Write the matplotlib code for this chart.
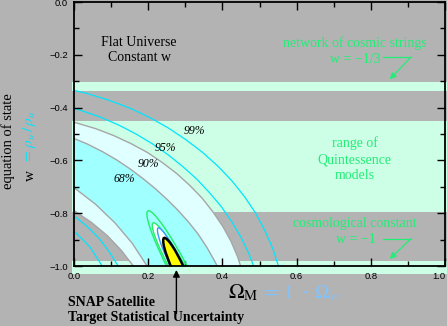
import matplotlib
matplotlib.use("Agg")
import matplotlib.pyplot as plt
from matplotlib.patches import Ellipse

plt.rcParams['mathtext.fontset'] = 'stix'

# horizontal bands of theoretical models (w ranges)
band_names = ["cosmic strings", "quintessence", "cosmological constant"]
band_low = [-0.338, -0.795, -1.029]
band_high = [-0.304, -0.449, -0.981]

# current supernova confidence contours, (Omega_M, w)
c68_out_om = [0.0, 0.036, 0.077, 0.116, 0.153, 0.187, 0.220, 0.251, 0.281, 0.309, 0.335, 0.358, 0.379, 0.386]
c68_out_w = [-0.517, -0.538, -0.567, -0.599, -0.634, -0.670, -0.708, -0.748, -0.790, -0.834, -0.880, -0.929, -0.981, -1.0]
c68_in_om = [0.0, 0.058, 0.110, 0.157, 0.197]
c68_in_w = [-0.703, -0.766, -0.836, -0.914, -1.0]

c90_out_om = [0.0, 0.009, 0.059, 0.107, 0.153, 0.198, 0.239, 0.278, 0.313, 0.346, 0.375, 0.401, 0.423, 0.441, 0.449]
c90_out_w = [-0.456, -0.459, -0.480, -0.506, -0.536, -0.570, -0.609, -0.651, -0.696, -0.744, -0.796, -0.850, -0.906, -0.965, -1.0]
c90_in_om = [0.0, 0.047, 0.089, 0.127, 0.16]
c90_in_w = [-0.79, -0.835, -0.884, -0.940, -1.0]

c95_out_om = [0.0, 0.017, 0.069, 0.119, 0.166, 0.211, 0.254, 0.293, 0.331, 0.365, 0.397, 0.425, 0.450, 0.471, 0.484]
c95_out_w = [-0.403, -0.410, -0.435, -0.465, -0.499, -0.537, -0.579, -0.623, -0.671, -0.722, -0.775, -0.832, -0.891, -0.952, -1.0]
c95_in_om = [0.0, 0.036, 0.068, 0.095, 0.119]
c95_in_w = [-0.81, -0.851, -0.896, -0.946, -1.0]

c99_out_om = [0.0, 0.034, 0.092, 0.149, 0.202, 0.253, 0.301, 0.346, 0.388, 0.426, 0.460, 0.490, 0.515, 0.536, 0.551]
c99_out_w = [-0.335, -0.346, -0.371, -0.401, -0.436, -0.476, -0.521, -0.569, -0.622, -0.678, -0.738, -0.801, -0.867, -0.935, -1.0]
c99_in_om = [0.0, 0.043, 0.076]
c99_in_w = [-0.867, -0.928, -1.0]

# SNAP target uncertainty ellipses (outer green, inner green, blue, yellow)
snap_om = 0.281
snap_w = -1.011
snap_semi_major = [0.2345, 0.187, 0.1646, 0.1234]
snap_semi_minor = [0.026, 0.021, 0.017, 0.016]
snap_angle = [110.2, 111.1, 109.1, 107.8]

x_ticks = [0.0, 0.2, 0.4, 0.6, 0.8, 1.0]
y_ticks = [0.0, -0.2, -0.4, -0.6, -0.8, -1.0]

GRAY = '#b3b3b3'
LGREEN = '#ccffe5'
GREEN = '#22ee77'
CYAN = '#00e5ff'
LINEGRAY = '#a6a6a6'
SERIF = 'Liberation Serif'

fig = plt.figure(figsize=(4.47, 3.26), dpi=100, facecolor=GRAY)
ax = fig.add_axes([74 / 447, 60 / 326, 371 / 447, 264 / 326])
ax.set_facecolor(GRAY)
ax.set_xlim(0, 1.0)
ax.set_ylim(-1.0, 0.0)

# model bands, slightly overhanging the frame like in the original
for lo, hi in zip(band_low, band_high):
    ax.axhspan(lo, hi, xmin=-0.006, xmax=1.01, color=LGREEN, lw=0, zorder=0.5, clip_on=False)

# filled regions
ax.fill(c90_out_om + c90_in_om[::-1], c90_out_w + c90_in_w[::-1], color='#e0ffff', lw=0, zorder=1)
ax.fill(c68_out_om + c68_in_om[::-1], c68_out_w + c68_in_w[::-1], color='#a0ffff', lw=0, zorder=1.1)

for om, w in [(c68_out_om, c68_out_w), (c68_in_om, c68_in_w),
              (c90_out_om, c90_out_w), (c90_in_om, c90_in_w)]:
    ax.plot(om, w, color=LINEGRAY, lw=1, zorder=1.2)
for om, w in [(c95_out_om, c95_out_w), (c95_in_om, c95_in_w),
              (c99_out_om, c99_out_w), (c99_in_om, c99_in_w)]:
    ax.plot(om, w, color=CYAN, lw=0.9, zorder=1.2)

# SNAP ellipses
styles = [dict(fill=False, ec='#22ee66', lw=1.0),
          dict(fc='white', ec='#22ee66', lw=1.0),
          dict(fc='white', ec='#3399ff', lw=1.0),
          dict(fc='#ffff00', ec='black', lw=1.8)]
for a, b, ang, st in zip(snap_semi_major, snap_semi_minor, snap_angle, styles):
    ax.add_patch(Ellipse((snap_om, snap_w), 2 * a, 2 * b, angle=ang, zorder=2, **st))

# confidence labels
for txt, xx, yy in [("99%", 0.324, -0.49), ("95%", 0.247, -0.553),
                    ("90%", 0.2, -0.614), ("68%", 0.135, -0.669)]:
    ax.text(xx, yy, txt, fontsize=8.5, style='italic', family=SERIF,
            ha='center', va='center', zorder=3)

ax.text(0.174, -0.152, "Flat Universe", fontsize=10, family=SERIF, ha='center', va='center')
ax.text(0.176, -0.209, "Constant w", fontsize=10, family=SERIF, ha='center', va='center')

gt = dict(fontsize=10, family=SERIF, color=GREEN, ha='center', va='center')
ax.text(0.757, -0.156, "network of cosmic strings", **gt)
ax.text(0.759, -0.217, "w = \u22121/3", **gt)
ax.text(0.757, -0.536, "range of", **gt)
ax.text(0.757, -0.597, "Quintessence", **gt)
ax.text(0.757, -0.658, "models", **gt)
ax.text(0.757, -0.840, "cosmological constant", **gt)
ax.text(0.759, -0.901, "w = \u22121", **gt)

for yy, ytip in [(-0.209, -0.293), (-0.897, -0.973)]:
    ax.plot([0.832, 0.908], [yy, yy], color=GREEN, lw=0.9)
    ax.annotate("", xy=(0.851, ytip), xytext=(0.908, yy),
                arrowprops=dict(arrowstyle='-|>', color=GREEN, lw=0.9,
                                mutation_scale=9, shrinkA=0, shrinkB=0))

# axes styling
for s in ax.spines.values():
    s.set_linewidth(1.3)
ax.set_xticks(x_ticks)
ax.set_xticklabels(["%.1f" % v for v in x_ticks])
ax.set_yticks(y_ticks)
ax.set_yticklabels([("%.1f" % v).replace("-", "\u2212") for v in y_ticks])
ax.set_xticks([0.1, 0.3, 0.5, 0.7, 0.9], minor=True)
ax.set_yticks([-0.1, -0.3, -0.5, -0.7, -0.9], minor=True)
ax.tick_params(which='both', direction='in', top=True, right=True, width=1, colors='black')
ax.tick_params(which='major', length=6, labelsize=6.8, pad=4.5)
ax.tick_params(which='minor', length=3.5)
for lab in ax.get_xticklabels() + ax.get_yticklabels():
    lab.set_family('Liberation Sans')
ax.get_xticklabels()[-1].set_ha('right')

# axis titles
fig.text(228 / 447, 1 - 293 / 326, r"$\Omega_{\rm M}$", fontsize=15, ha='left', va='center')
fig.text(262 / 447, 1 - 293 / 326, r"$=\,1\,$ - $\Omega_{w}$", fontsize=14, color='#80c4ff',
         ha='left', va='center')
fig.text(8 / 447, 1 - 141 / 326, "equation of state", fontsize=10.5, family=SERIF,
         rotation=90, ha='center', va='center')
fig.text(30 / 447, 1 - 181 / 326, "w", fontsize=11, family=SERIF, rotation=90,
         rotation_mode='anchor', ha='left', va='center')
fig.text(30 / 447, 1 - 164 / 326, r"$=\,\rho_u\,/\,\rho_u$", fontsize=11, color=CYAN,
         rotation=90, rotation_mode='anchor', ha='left', va='center')

# SNAP annotation below the frame
fig.text(68 / 447, 1 - 302 / 326, "SNAP Satellite", fontsize=10, weight='bold',
         family=SERIF, ha='left', va='center')
fig.text(68 / 447, 1 - 318 / 326, "Target Statistical Uncertainty", fontsize=10,
         weight='bold', family=SERIF, ha='left', va='center')
ax.annotate("", xy=(0.276, -1.015), xytext=(0.276, -1.18), annotation_clip=False,
            arrowprops=dict(arrowstyle='-|>', color='black', lw=1, mutation_scale=10,
                            shrinkA=0, shrinkB=0))

fig.savefig("out.png", dpi=100, facecolor=GRAY)
